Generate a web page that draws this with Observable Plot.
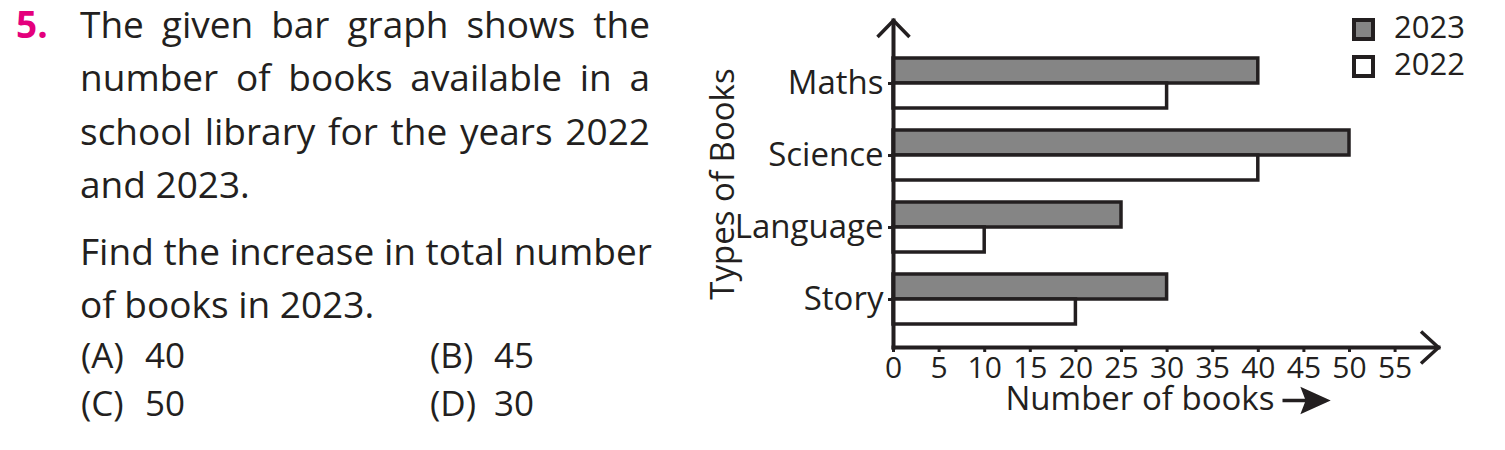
<!DOCTYPE html>
<html><head><meta charset="utf-8">
<script src="https://cdn.jsdelivr.net/npm/d3@7"></script>
<script src="https://cdn.jsdelivr.net/npm/@observablehq/plot@0.6"></script>
<style>
html,body{margin:0;padding:0;background:#fff}
body{width:1505px;height:450px;overflow:hidden;position:relative;font-family:"Open Sans",sans-serif;color:#231f20}
.t{position:absolute;font-size:37px;line-height:37px;white-space:nowrap}
.j{width:570px;text-align:justify;text-align-last:justify}
.num{color:#e4007c;font-weight:bold;}
.opt{font-size:35px;line-height:35px}
#chart{position:absolute;left:0;top:0}
.sw{position:absolute;width:23px;height:23px;box-sizing:border-box;border:4.5px solid #231f20}
.lt{position:absolute;font-size:31px;line-height:31px}
</style></head><body>
<div id="chart"></div>
<div id="q"></div>
<div id="legend"></div>
<script>
// ---- data ----
const categories = ["Maths", "Science", "Language", "Story"];
const books2023 = [40, 50, 25, 30];
const books2022 = [30, 40, 10, 20];
const years = ["2023", "2022"];
const xTicks = [0, 5, 10, 15, 20, 25, 30, 35, 40, 45, 50, 55];
const xLabel = "Number of books";
const yLabel = "Types of Books";
const questionNumber = "5.";
const questionLines = [
  "The given bar graph shows the",
  "number of books available in a",
  "school library for the years 2022",
  "and 2023.",
  "Find the increase in total number",
  "of books in 2023."
];
const optionLabels = ["(A)", "(B)", "(C)", "(D)"];
const optionValues = [40, 45, 50, 30];

// ---- question text ----
const q = document.getElementById("q");
const lineTops = [5.4, 58.4, 111.6, 164.6, 232.1, 285.2];
const justified = [true, true, true, false, true, false];
const n = document.createElement("div");
n.className = "t num"; n.style.left = "16px"; n.style.top = lineTops[0] + "px"; n.textContent = questionNumber;
q.appendChild(n);
questionLines.forEach((s, i) => {
  const d = document.createElement("div");
  d.className = "t" + (justified[i] ? " j" : "");
  d.style.left = "80px"; d.style.top = lineTops[i] + "px";
  d.textContent = s;
  q.appendChild(d);
});
optionLabels.forEach((l, i) => {
  const left = (i % 2 ? 430 : 81);
  const top = (i < 2 ? 337.2 : 384.5);
  const a = document.createElement("div");
  a.className = "t opt"; a.style.left = left + "px"; a.style.top = top + "px"; a.textContent = l;
  q.appendChild(a);
  const v = document.createElement("div");
  v.className = "t opt"; v.style.left = (left + 64) + "px"; v.style.top = top + "px"; v.textContent = optionValues[i];
  q.appendChild(v);
});

// ---- legend ----
const lg = document.getElementById("legend");
const fills = {"2023": "#858585", "2022": "#ffffff"};
years.forEach((y, i) => {
  const s = document.createElement("div");
  s.className = "sw"; s.style.left = "1352px"; s.style.top = (18.3 + i * 36.7) + "px"; s.style.background = fills[y];
  lg.appendChild(s);
  const t = document.createElement("div");
  t.className = "lt"; t.style.left = "1394px"; t.style.top = (10.8 + i * 36.7) + "px"; t.textContent = y;
  lg.appendChild(t);
});

// ---- chart ----
const data = categories.map((c, i) => ({category: c, v2023: books2023[i], v2022: books2022[i]}));
const chevronUp = {draw(ctx) { ctx.moveTo(-16, 16.5); ctx.lineTo(0, 0); ctx.lineTo(16, 16.5); }};
const chevronRight = {draw(ctx) { ctx.moveTo(-17.5, -16); ctx.lineTo(0, 0); ctx.lineTo(-17.5, 16); }};
const labelArrow = {draw(ctx) {
  ctx.moveTo(0, 0); ctx.lineTo(24, 0);
  ctx.moveTo(21, -10.5); ctx.lineTo(44, 0); ctx.lineTo(21, 10.5); ctx.lineTo(25, 0); ctx.closePath();
}};
const ink = "#231f20";
const plot = Plot.plot({
  width: 1505, height: 450,
  marginLeft: 893, marginRight: 67, marginTop: 20, marginBottom: 103,
  style: {fontFamily: "'Open Sans', sans-serif", color: ink, background: "transparent", overflow: "visible"},
  x: {domain: [0, 55], range: [893, 1394.6]},
  y: {domain: categories, range: [20, 347], paddingInner: 0.31, paddingOuter: 0.41, align: 0.62},
  marks: [
    Plot.barX(data, {y: "category", x: "v2023", fill: fills["2023"], stroke: ink, strokeWidth: 3.5, insetBottom: 25}),
    Plot.barX(data, {y: "category", x: "v2022", fill: fills["2022"], stroke: ink, strokeWidth: 3.5, insetTop: 25}),
    Plot.frame({anchor: "left", stroke: ink, strokeWidth: 4}),
    Plot.frame({anchor: "bottom", stroke: ink, strokeWidth: 4}),
    Plot.dot([0], {frameAnchor: "top-left", symbol: chevronUp, stroke: ink, fill: "none", strokeWidth: 3.5, r: 10}),
    Plot.dot([0], {frameAnchor: "bottom-right", symbol: chevronRight, stroke: ink, fill: "none", strokeWidth: 3.5, r: 10}),
    Plot.axisX({ticks: xTicks, tickSize: 5, tickPadding: 4, fontSize: 30, strokeWidth: 3, stroke: ink, label: null}),
    Plot.text([xLabel], {frameAnchor: "bottom-left", dx: 112, dy: 62, textAnchor: "start", lineAnchor: "bottom", fontSize: 33, fill: ink}),
    Plot.dot([0], {frameAnchor: "bottom-left", dx: 389, dy: 53, symbol: labelArrow, stroke: ink, fill: ink, strokeWidth: 3.5, r: 10}),
    Plot.axisY({tickSize: 5, tickPadding: 5, fontSize: 33, strokeWidth: 3, stroke: ink,
      label: yLabel, labelAnchor: "center", labelArrow: "none", labelOffset: 183})
  ]
});
document.getElementById("chart").appendChild(plot);
</script>
</body></html>
